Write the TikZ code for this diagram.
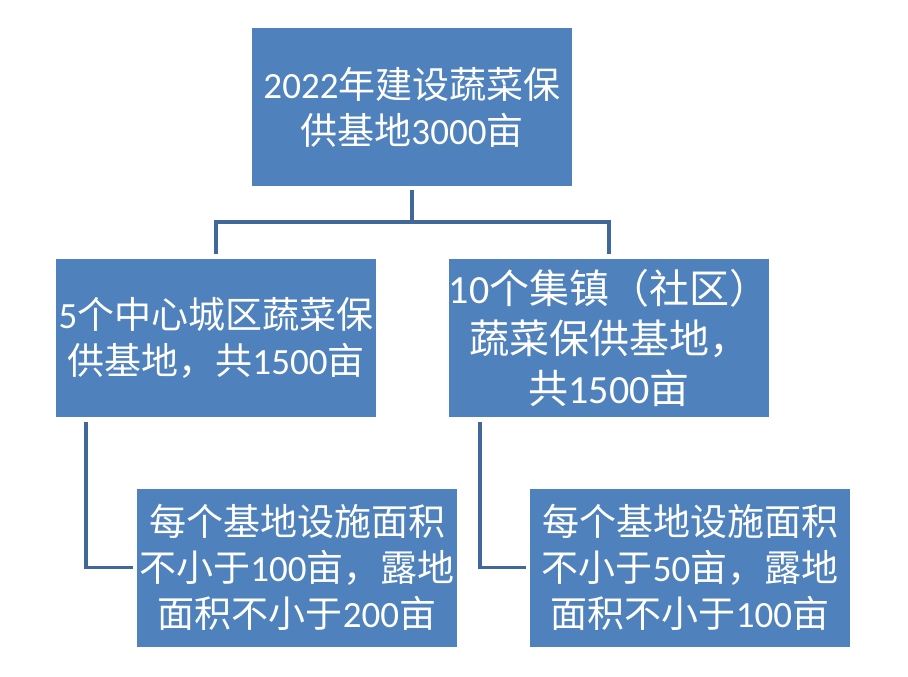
\documentclass[tikz,border=0pt]{standalone}
\usepackage{fontspec}
\setmainfont{Noto Sans CJK SC}
\newfontfamily\carl{Carlito}
\newcommand\dg[1]{{\carl #1}}
\definecolor{boxblue}{HTML}{4F81BD}
\definecolor{linkblue}{HTML}{41689A}
\begin{document}
\begin{tikzpicture}[x=1pt,y=-1pt,
  box/.style={rectangle, fill=boxblue, draw=none, minimum width=320pt, minimum height=158pt,
    inner sep=0pt, align=center, text=white, font=\fontsize{37}{46}\selectfont},
  bigbox/.style={box, font=\fontsize{40}{50}\selectfont},
  conn/.style={draw=linkblue, line width=3.4pt, line join=miter}]
\useasboundingbox (0,0) rectangle (908,677);
\node[box] (top) at (412,107) {\dg{2022}年建设蔬菜保\\供基地\dg{3000}亩};
\node[box] (ml) at (216,338) {\dg{5}个中心城区蔬菜保\\供基地，共\dg{1500}亩};
\node[bigbox] (mr) at (609,338) {\dg{10}个集镇（社区）\\蔬菜保供基地，\\共\dg{1500}亩};
\node[box] (bl) at (297,567.5) {每个基地设施面积\\不小于\dg{100}亩，露地\\面积不小于\dg{200}亩};
\node[box] (br) at (690,567.5) {每个基地设施面积\\不小于\dg{50}亩，露地\\面积不小于\dg{100}亩};
\coordinate (hub) at (412,222);
\draw[conn] ([yshift=-4pt]top.south) -- (hub);
\draw[conn] ([yshift=5pt]ml.north) |- (hub) -| ([yshift=5pt]mr.north);
\draw[conn] ([xshift=-130pt,yshift=-5pt]ml.south) |- ([xshift=-4pt]bl.west);
\draw[conn] ([xshift=-129pt,yshift=-5pt]mr.south) |- ([xshift=-4pt]br.west);
\end{tikzpicture}
\end{document}
